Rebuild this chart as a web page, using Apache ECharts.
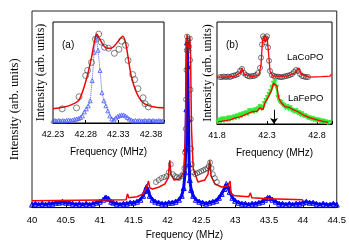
<!DOCTYPE html>
<html><head><meta charset="utf-8">
<script src="https://cdn.jsdelivr.net/npm/echarts@6/dist/echarts.min.js"></script>
<style>html,body{margin:0;padding:0;background:#fff}#c{width:349px;height:245px}</style>
</head><body><div id="c"></div>
<script>
// ---------- tick labels ----------
const mainTickLabels = ['40','40.5','41','41.5','42','42.5','43','43.5','44','44.5'];
const insetATickLabels = ['42.23','42.28','42.33','42.38'];
const insetBTickLabels = ['41.8','42.3','42.8'];

// ---------- main plot (frequency MHz, intensity arb.) ----------
const blueMain = [[40.00,1.5],[40.05,2],[40.10,1.5],[40.15,2],[40.20,1.5],[40.25,2],[40.30,2],[40.35,2.5],[40.40,2.5],[40.45,3],[40.50,2.5],[40.55,2.5],[40.60,2],[40.65,1.5],[40.70,2],[40.75,1.5],[40.80,2],[40.85,1.5],[40.90,2],[40.95,2.5],[41.00,3],[41.05,4],[41.08,5],[41.10,5],[41.13,4.5],[41.17,3],[41.20,2.5],[41.25,2],[41.30,1.5],[41.35,2],[41.40,2],[41.45,2.5],[41.50,2.5],[41.55,3],[41.60,4],[41.64,6],[41.67,8.5],[41.69,10.5],[41.71,9],[41.74,6],[41.78,4],[41.82,3],[41.87,2.5],[41.92,2],[41.97,2],[42.02,2.5],[42.07,2.5],[42.12,3],[42.17,4],[42.21,6],[42.24,10],[42.26,18],[42.27,30],[42.28,50],[42.29,84],[42.30,72],[42.31,45],[42.32,22],[42.33,14],[42.35,9],[42.38,6],[42.42,4],[42.47,3],[42.52,2.5],[42.57,2],[42.62,2.5],[42.67,3],[42.72,3.5],[42.76,5],[42.80,7],[42.84,9.5],[42.87,12],[42.89,11],[42.92,8],[42.96,5],[43.00,3.5],[43.05,2.5],[43.10,2],[43.15,2],[43.20,1.5],[43.25,2],[43.30,2],[43.35,2.5],[43.40,3],[43.44,4],[43.48,5],[43.51,5],[43.55,4],[43.60,3],[43.65,2],[43.70,2],[43.75,1.5],[43.80,2],[43.85,1.5],[43.90,2],[43.95,2],[44.00,2.5],[44.05,3],[44.10,2.5],[44.15,2.5],[44.20,2],[44.25,1.5],[44.30,2],[44.35,1.5],[44.40,1.5],[44.45,2],[44.50,1.5]];
const redMain = [[40.00,3.5],[41.39,4],[41.41,7],[41.43,5],[41.55,5.5],[41.64,7],[41.69,10],[41.72,13.5],[41.74,10],[41.78,9.5],[41.88,10.5],[41.96,12],[42.01,15],[42.035,24],[42.05,17],[42.10,14],[42.18,14.5],[42.24,18],[42.265,35],[42.28,80],[42.29,88],[42.31,80],[42.33,87],[42.34,80],[42.355,40],[42.38,20],[42.45,13],[42.55,14],[42.60,17],[42.625,24],[42.645,16],[42.70,12],[42.80,10.5],[42.89,11],[42.925,13.5],[42.94,7],[43.00,6],[43.20,5.5],[43.225,7.5],[43.245,5],[43.50,4.5],[44.00,4]];
const circlesMain = [[41.83,13],[41.87,14],[41.91,15],[41.95,15.5],[41.99,16],[42.02,18],[42.05,22],[42.08,17],[42.11,16],[42.14,15.5],[42.17,15],[42.20,16],[42.23,17],[42.25,20],[42.26,28],[42.27,40],[42.275,55],[42.28,70],[42.285,80],[42.29,87],[42.30,85],[42.31,80],[42.32,82],[42.33,86],[42.335,75],[42.34,60],[42.345,45],[42.35,30],[42.36,22],[42.38,18],[42.41,17],[42.44,17.5],[42.47,18],[42.50,18.5],[42.53,19],[42.56,19.5],[42.59,20],[42.61,21],[42.63,23],[42.65,20],[42.67,17],[42.70,15],[42.73,13]];

// ---------- inset (a) ----------
const redA = [[42.230,14],[42.245,15.5],[42.258,18],[42.270,23],[42.281,43],[42.289,65],[42.294,82],[42.297,88],[42.301,84],[42.307,77],[42.313,74],[42.319,74],[42.325,77],[42.331,82],[42.337,86],[42.341,80],[42.345,65],[42.350,46],[42.358,30],[42.368,20],[42.383,16],[42.400,15]];
const circlesA = [[42.244,14],[42.266,15],[42.270,26],[42.280,47],[42.283,52],[42.289,60],[42.295,83],[42.300,88],[42.304,80],[42.309,75],[42.315,74],[42.324,69],[42.331,73],[42.335,81],[42.341,77],[42.345,62],[42.352,48],[42.355,43],[42.360,34],[42.368,25],[42.371,19],[42.376,16]];
const blueA = [[42.230,2],[42.233,2.5],[42.236,2],[42.239,2.5],[42.242,2],[42.245,2.5],[42.248,2],[42.251,2.5],[42.254,3],[42.257,2.5],[42.260,3],[42.263,3.5],[42.266,4],[42.269,4.5],[42.272,5.5],[42.275,7],[42.278,11],[42.281,14],[42.284,17],[42.287,22],[42.290,42],[42.293,70],[42.296,85],[42.299,72],[42.302,52],[42.305,30],[42.308,22],[42.311,17],[42.314,12],[42.317,7],[42.320,4],[42.323,3],[42.326,5],[42.329,6.5],[42.332,7.5],[42.335,8],[42.338,8],[42.341,7],[42.344,5.5],[42.347,4],[42.350,3],[42.353,2],[42.356,2.5],[42.359,2],[42.362,2.5],[42.365,2],[42.368,2],[42.371,2.5],[42.374,2],[42.377,2.5],[42.380,2],[42.383,2.5],[42.386,2],[42.389,2],[42.392,2.5],[42.395,2],[42.398,2]];

// ---------- inset (b) ----------
const redCo = [[41.80,46],[41.90,46],[41.98,47],[42.03,50],[42.05,55],[42.07,49],[42.15,46.5],[42.22,48],[42.24,58],[42.255,82],[42.27,86],[42.28,80],[42.29,82],[42.30,86],[42.315,70],[42.33,52],[42.36,47],[42.50,47],[42.58,50],[42.62,55],[42.64,49],[42.72,46],[42.85,46.5],[42.93,47],[42.945,49]];
const circlesCo = [[41.83,46],[41.85,46],[41.87,46.5],[41.89,46],[41.91,46.5],[41.93,46],[41.95,47],[41.97,47.5],[41.99,48],[42.01,49],[42.03,52],[42.05,54],[42.07,50],[42.09,48],[42.11,47],[42.13,46.5],[42.15,47],[42.17,47],[42.19,48],[42.21,50],[42.23,55],[42.24,65],[42.25,78],[42.26,86],[42.27,84],[42.28,80],[42.29,84],[42.30,86],[42.31,75],[42.32,62],[42.33,52],[42.35,48],[42.37,47],[42.39,46.5],[42.41,46.5],[42.43,46],[42.45,46],[42.47,46.5],[42.49,47],[42.51,47.5],[42.53,48],[42.55,49],[42.57,51],[42.59,53],[42.61,52],[42.63,49],[42.65,47],[42.67,46.5],[42.69,46],[42.71,46]];
const greenFe = [[41.81,2],[41.825,4],[41.84,3],[41.855,5],[41.87,3.5],[41.885,5],[41.90,4],[41.915,6],[41.93,4.5],[41.945,6],[41.96,5.5],[41.975,7],[41.99,6],[42.005,8],[42.02,7],[42.035,9],[42.05,8],[42.065,10],[42.08,9.5],[42.095,11],[42.11,10],[42.125,13],[42.14,12],[42.155,13],[42.17,12],[42.185,14],[42.20,13],[42.215,15],[42.23,17],[42.245,15],[42.26,16],[42.275,20],[42.29,23],[42.305,26],[42.32,29],[42.335,32],[42.35,36],[42.365,40],[42.38,42],[42.395,36],[42.41,26],[42.425,22],[42.44,21],[42.455,19],[42.47,18],[42.485,16],[42.50,17],[42.515,15],[42.53,16],[42.545,14],[42.56,13],[42.575,12],[42.59,13],[42.605,11],[42.62,11],[42.635,9],[42.65,10],[42.665,8],[42.68,8],[42.695,7],[42.71,6],[42.725,6],[42.74,5],[42.755,5.5],[42.77,4],[42.785,4.5],[42.80,3.5],[42.815,4],[42.83,3],[42.845,2.5],[42.86,3],[42.875,2],[42.89,2],[42.905,1.5],[42.92,1.5]];
const redFe = [[41.81,2],[41.93,4],[41.98,6],[42.03,7],[42.10,10],[42.15,12],[42.20,12.5],[42.23,16],[42.26,14],[42.28,21],[42.31,26],[42.345,33],[42.365,40],[42.385,41],[42.40,37],[42.415,26],[42.44,21],[42.48,17],[42.53,16],[42.56,14],[42.61,12],[42.66,9],[42.73,6],[42.80,4],[42.86,2.5],[42.91,1.5]];
const arrowFe = [[42.37,14],[42.37,0]];

// ---------- chart ----------
const SANS = 'Liberation Sans, Arial, sans-serif';
const SERIF = 'Liberation Serif, Times New Roman, serif';
const RED = '#ff0000', BLUE = '#0000ff', LBLUE = '#4a5cff', GREEN = '#33ee33', CIRC = '#3a3a3a';

function fmt(list, d) {
  return function (v) { const s = d === null ? String(Math.round(v * 10) / 10) : v.toFixed(d); return list.indexOf(s) >= 0 ? s : ''; };
}
function xAx(gi, min, max, interval, labels, d, fs, margin, nameGap, z) {
  return {
    gridIndex: gi, type: 'value', min: min, max: max, interval: interval, z: z,
    name: 'Frequency (MHz)', nameLocation: 'middle', nameGap: nameGap,
    nameTextStyle: { fontFamily: SANS, fontSize: 10, color: '#000' },
    axisLine: { show: true, lineStyle: { color: '#000', width: 1 } },
    axisTick: { show: true, inside: true, length: 3, lineStyle: { color: '#000' } },
    axisLabel: { show: true, margin: margin, fontFamily: SANS, fontSize: fs, color: '#000', formatter: fmt(labels, d) },
    splitLine: { show: false }
  };
}
function yAx(gi, max, nameGap, fs, z) {
  return {
    gridIndex: gi, type: 'value', min: 0, max: max, z: z,
    name: 'Intensity (arb. units)', nameLocation: 'middle', nameGap: nameGap, nameRotate: 90,
    nameTextStyle: { fontFamily: SERIF, fontSize: fs, color: '#000' },
    axisLine: { show: false }, axisTick: { show: false }, axisLabel: { show: false }, splitLine: { show: false }
  };
}

const chart = echarts.init(document.getElementById('c'), null, { renderer: 'canvas' });
chart.setOption({
  animation: false,
  backgroundColor: '#fff',
  grid: [
    { left: 28, top: 11, width: 312, height: 201, show: true, borderColor: '#222', borderWidth: 1, backgroundColor: 'transparent', z: 0 },
    { left: 53, top: 22, width: 111, height: 101, show: true, borderColor: '#000', borderWidth: 1, backgroundColor: '#fff', z: 5 },
    { left: 217, top: 22, width: 115, height: 102, show: true, borderColor: '#000', borderWidth: 1, backgroundColor: '#fff', z: 5 }
  ],
  xAxis: [
    xAx(0, 40, 44.5, 0.5, mainTickLabels, null, 9.5, 7.5, 21, 1),
    xAx(1, 42.23, 42.40, 0.05, insetATickLabels, 2, 9, 7.5, 24, 6),
    xAx(2, 41.8, 42.95, 0.5, insetBTickLabels, 1, 9, 7.5, 24, 6)
  ],
  yAxis: [
    yAx(0, 100, 11, 12.5, 1),
    yAx(1, 100, 6, 12, 6),
    yAx(2, 100, 3, 12, 6)
  ],
  graphic: [
    { type: 'text', left: 62, top: 40, z: 100, style: { text: '(a)', fontFamily: SANS, fontSize: 10, fill: '#000' } },
    { type: 'text', left: 226, top: 40, z: 100, style: { text: '(b)', fontFamily: SANS, fontSize: 10, fill: '#000' } },
    { type: 'text', left: 287, top: 52, z: 100, style: { text: 'LaCoPO', fontFamily: SANS, fontSize: 9.5, fill: '#000' } },
    { type: 'text', left: 288, top: 93, z: 100, style: { text: 'LaFePO', fontFamily: SANS, fontSize: 9.5, fill: '#000' } }
  ],
  series: [
    { type: 'line', xAxisIndex: 0, yAxisIndex: 0, data: blueMain, z: 2, showAllSymbol: true,
      symbol: 'triangle', symbolSize: 5, itemStyle: { color: 'transparent', borderColor: BLUE, borderWidth: 1 },
      lineStyle: { color: BLUE, width: 3 } },
    { type: 'line', xAxisIndex: 0, yAxisIndex: 0, data: redMain, z: 3, symbol: 'none',
      lineStyle: { color: RED, width: 1.5 } },
    { type: 'scatter', xAxisIndex: 0, yAxisIndex: 0, data: circlesMain, z: 4,
      symbol: 'circle', symbolSize: 5, itemStyle: { color: 'transparent', borderColor: CIRC, borderWidth: 0.8 } },

    { type: 'line', xAxisIndex: 1, yAxisIndex: 1, data: blueA, z: 7, showAllSymbol: true,
      symbol: 'triangle', symbolSize: 4, itemStyle: { color: 'transparent', borderColor: LBLUE, borderWidth: 0.8 },
      lineStyle: { color: LBLUE, width: 1, type: 'dotted' } },
    { type: 'line', xAxisIndex: 1, yAxisIndex: 1, data: redA, z: 8, symbol: 'none', smooth: 0.3,
      lineStyle: { color: RED, width: 1.5 } },
    { type: 'scatter', xAxisIndex: 1, yAxisIndex: 1, data: circlesA, z: 9,
      symbol: 'circle', symbolSize: 6, itemStyle: { color: 'transparent', borderColor: CIRC, borderWidth: 0.8 } },

    { type: 'scatter', xAxisIndex: 2, yAxisIndex: 2, data: circlesCo, z: 7,
      symbol: 'circle', symbolSize: 5, itemStyle: { color: 'transparent', borderColor: '#222', borderWidth: 0.8 } },
    { type: 'line', xAxisIndex: 2, yAxisIndex: 2, data: redCo, z: 8, symbol: 'none',
      lineStyle: { color: RED, width: 1.3 } },
    { type: 'line', xAxisIndex: 2, yAxisIndex: 2, data: greenFe, z: 7, showAllSymbol: true,
      symbol: 'triangle', symbolRotate: 180, symbolSize: 4, itemStyle: { color: GREEN, borderColor: GREEN },
      lineStyle: { color: GREEN, width: 2 } },
    { type: 'line', xAxisIndex: 2, yAxisIndex: 2, data: redFe, z: 8, symbol: 'none',
      lineStyle: { color: RED, width: 1.3 },
      markLine: { silent: true, symbol: ['none', 'arrow'], symbolSize: 6, label: { show: false },
        lineStyle: { color: '#000', width: 1, type: 'solid' },
        data: [[{ coord: arrowFe[0] }, { coord: arrowFe[1] }]] } }
  ]
});
</script>
</body></html>
